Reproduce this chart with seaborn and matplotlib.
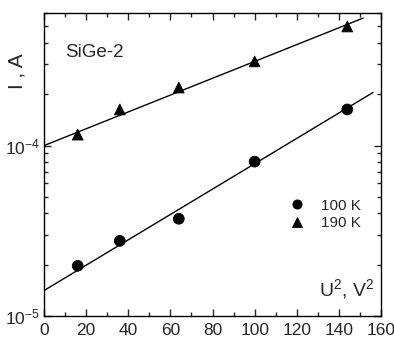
import numpy as np
import pandas as pd
import matplotlib
matplotlib.use("Agg")
import matplotlib.pyplot as plt
import seaborn as sns
from matplotlib.ticker import LogLocator, MultipleLocator, NullFormatter

sns.set_style("ticks")
plt.rcParams['font.family'] = ['Liberation Sans', 'DejaVu Sans']
plt.rcParams['mathtext.fontset'] = 'custom'
plt.rcParams['mathtext.rm'] = 'Liberation Sans'
plt.rcParams['mathtext.it'] = 'Liberation Sans'
plt.rcParams['axes.unicode_minus'] = False

u2 = [16, 36, 64, 100, 144]
i_100K = [1.97e-5, 2.76e-5, 3.72e-5, 8.05e-5, 1.63e-4]
i_190K = [1.16e-4, 1.63e-4, 2.19e-4, 3.12e-4, 5.0e-4]

fit100_x = [0, 156.2]
fit100_y = [1.41e-5, 2.05e-4]
fit190_x = [0, 151.5]
fit190_y = [1.0e-4, 5.6e-4]

x_ticks = [0, 20, 40, 60, 80, 100, 120, 140, 160]

df = pd.DataFrame({
    'U2': u2 * 2,
    'I': i_100K + i_190K,
    'T': ['100 K'] * len(u2) + ['190 K'] * len(u2),
})

fig = plt.figure(figsize=(3.94, 3.38), dpi=100)
ax = fig.add_axes([44 / 394, 1 - 316 / 338, (381 - 44) / 394, (316 - 13) / 338])

sns.lineplot(x=fit100_x, y=fit100_y, ax=ax, color='black', lw=1.0, legend=False)
sns.lineplot(x=fit190_x, y=fit190_y, ax=ax, color='black', lw=1.0, legend=False)
sns.scatterplot(data=df, x='U2', y='I', style='T', markers={'100 K': 'o', '190 K': '^'},
                color='black', s=60, edgecolor='black', ax=ax, zorder=3)

ax.set_yscale('log')
ax.set_xlim(0, 160)
ax.set_ylim(1e-5, 6e-4)
ax.set_xticks(x_ticks)
ax.xaxis.set_minor_locator(MultipleLocator(10))
ax.yaxis.set_major_locator(LogLocator(base=10, numticks=10))
ax.yaxis.set_minor_locator(LogLocator(base=10, subs=np.arange(2, 10), numticks=20))
ax.yaxis.set_minor_formatter(NullFormatter())
ax.tick_params(which='both', direction='in', top=True, right=True, labelsize=12.5, width=1)
ax.tick_params(axis='y', pad=3)
ax.tick_params(axis='x', pad=5)
ax.tick_params(which='major', length=5)
ax.tick_params(which='minor', length=3)
for s in ax.spines.values():
    s.set_linewidth(1.0)
    s.set_color('black')

ax.set_xlabel('')
ax.set_ylabel('')
fig.text(17 / 394, 1 - 71 / 338, 'I , A', rotation=90, ha='center', va='center', fontsize=15)
ax.text(0.98, 0.09, r'U$^2$, V$^2$', transform=ax.transAxes, ha='right', va='center', fontsize=14)
ax.text(0.063, 0.87, 'SiGe-2', transform=ax.transAxes, ha='left', va='center', fontsize=13.5)

leg = ax.legend(loc='center left', bbox_to_anchor=(0.728, 0.335), frameon=False, fontsize=11,
                handlelength=1.0, handletextpad=1.1, labelspacing=0.25, borderpad=0,
                borderaxespad=0, markerscale=0.85)
leg.set_title(None)

fig.savefig('out.png', dpi=100)
